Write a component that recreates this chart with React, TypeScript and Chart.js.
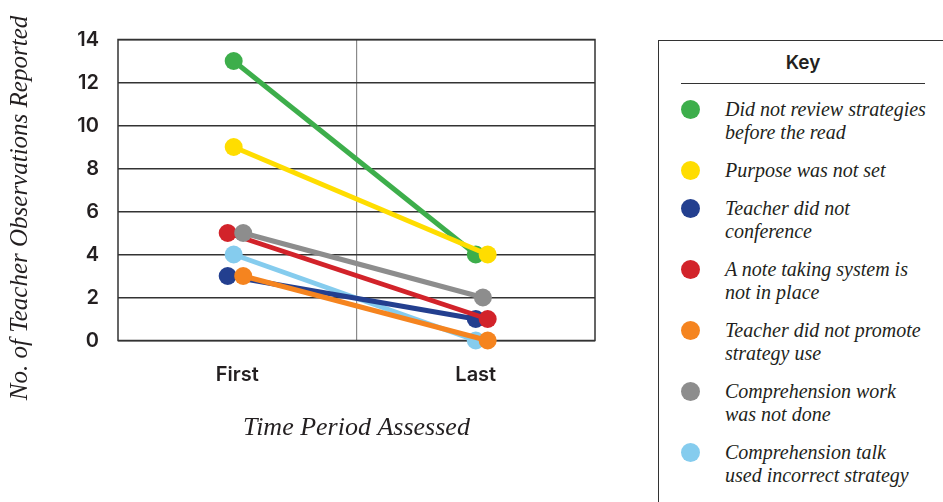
import React, { useEffect, useRef } from "react";
import { Chart, registerables } from "chart.js";

Chart.register(...registerables);

// ---- data ----
const periodLabels = ["First", "Last"];
const periodPositions = [1, 3];
const seriesNames: string[][] = [
  ["Did not review strategies", "before the read"],
  ["Purpose was not set"],
  ["Teacher did not", "conference"],
  ["A note taking system is", "not in place"],
  ["Teacher did not promote", "strategy use"],
  ["Comprehension work", "was not done"],
  ["Comprehension talk", "used incorrect strategy"],
];
const firstValues = [13, 9, 3, 5, 3, 5, 4];
const lastValues = [4, 4, 1, 1, 0, 2, 0];
// small horizontal dodge of each series' markers (as in the original)
const firstDodge = [-0.03, -0.03, -0.08, -0.08, 0.05, 0.05, -0.03];
const lastDodge = [0, 0.1, 0, 0.1, 0.1, 0.06, 0];
const seriesColors = ["#3DAE4B", "#FFDD00", "#233F8F", "#D2232A", "#F5841F", "#8D8D8D", "#85CCEE"];
const layerOrder = [7, 6, 4, 3, 2, 1, 5];
const yMin = 0;
const yMax = 14;
const yStep = 2;

const TEXT = "#231f20";
const SANS = "Inter, 'Open Sans', sans-serif";
const SERIF = "'Liberation Serif', 'DejaVu Serif', serif";

const framePlugin = {
  id: "frame",
  beforeDatasetsDraw(chart: any) {
    const { ctx, chartArea } = chart;
    ctx.save();
    ctx.strokeStyle = "#333333";
    ctx.lineWidth = 1.5;
    ctx.strokeRect(chartArea.left, chartArea.top, chartArea.right - chartArea.left, chartArea.bottom - chartArea.top);
    ctx.restore();
  },
};

function SlopeChart() {
  const ref = useRef<HTMLCanvasElement | null>(null);
  useEffect(() => {
    if (!ref.current) return;
    const datasets = seriesNames.map((name, i) => ({
      label: name.join(" "),
      data: [
        { x: periodPositions[0] + firstDodge[i], y: firstValues[i] },
        { x: periodPositions[1] + lastDodge[i], y: lastValues[i] },
      ],
      borderColor: seriesColors[i],
      backgroundColor: seriesColors[i],
      pointBackgroundColor: seriesColors[i],
      pointBorderWidth: 0,
      pointRadius: 9,
      pointHoverRadius: 9,
      borderWidth: 5,
      showLine: true,
      fill: false,
      clip: false as any,
      order: layerOrder[i],
    }));
    const chart = new Chart(ref.current, {
      type: "line",
      data: { datasets },
      plugins: [framePlugin],
      options: {
        animation: false,
        responsive: false,
        layout: { padding: { left: 0, top: 39.5, right: 45, bottom: 0 } },
        plugins: { legend: { display: false }, tooltip: { enabled: false } },
        scales: {
          x: {
            type: "linear",
            min: 0,
            max: 4,
            afterFit: (s: any) => {
              s.height = 161.5;
            },
            afterBuildTicks: (s: any) => {
              s.ticks = [0, 1, 2, 3, 4].map((v) => ({ value: v }));
            },
            ticks: {
              stepSize: 1,
              padding: 22,
              color: TEXT,
              font: { family: SANS, size: 20, weight: 600 as any },
              callback: (v: any) => {
                const k = periodPositions.indexOf(Number(v));
                return k >= 0 ? periodLabels[k] : "";
              },
            },
            grid: {
              drawTicks: false,
              color: (c: any) => (c.tick && c.tick.value === 2 ? "#8a8a8a" : "rgba(0,0,0,0)"),
              lineWidth: 1.2,
            },
            border: { display: false },
            title: {
              display: true,
              text: "Time Period Assessed",
              color: TEXT,
              font: { family: SERIF, size: 26, style: "italic" as any, weight: "normal" as any },
              padding: { top: 0, bottom: 58 },
            },
          },
          y: {
            type: "linear",
            min: yMin,
            max: yMax,
            afterFit: (s: any) => {
              s.width = 118;
            },
            ticks: {
              stepSize: yStep,
              padding: 19,
              color: TEXT,
              font: { family: SANS, size: 20, weight: 600 as any },
            },
            grid: { drawTicks: false, color: "#333333", lineWidth: 1.5 },
            border: { display: false },
          },
        },
      },
    });
    return () => chart.destroy();
  }, []);
  return <canvas ref={ref} width={640} height={502} style={{ position: "absolute", left: 0, top: 0, width: 640, height: 502 }} />;
}

export default function App() {
  return (
    <div style={{ position: "absolute", left: 0, top: 0, width: 943, height: 502, overflow: "hidden", background: "#fff" }}>
      <SlopeChart />
      <div
        style={{
          position: "absolute",
          left: 19 - 220,
          top: 208 - 15,
          width: 440,
          height: 30,
          lineHeight: "30px",
          textAlign: "center",
          transform: "rotate(-90deg)",
          transformOrigin: "50% 50%",
          fontFamily: SERIF,
          fontStyle: "italic",
          fontSize: 25,
          color: TEXT,
          whiteSpace: "nowrap",
        }}
      >
        No. of Teacher Observations Reported
      </div>
      <div
        style={{
          position: "absolute",
          left: 658,
          top: 40,
          width: 285,
          height: 462,
          borderTop: "1.5px solid #333",
          borderLeft: "1.5px solid #333",
          boxSizing: "border-box",
        }}
      />
      <div
        style={{
          position: "absolute",
          left: 681,
          top: 51,
          width: 244,
          textAlign: "center",
          fontFamily: SANS,
          fontWeight: 600,
          fontSize: 19,
          lineHeight: "24px",
          color: TEXT,
        }}
      >
        Key
      </div>
      <div style={{ position: "absolute", left: 681, top: 82.5, width: 244, height: 1.5, background: "#333" }} />
      <div style={{ position: "absolute", left: 681, top: 98 }}>
        {seriesNames.map((lines, i) => (
          <div key={i} style={{ display: "flex", alignItems: "flex-start", marginBottom: 15 }}>
            <div
              style={{
                width: 19,
                height: 19,
                borderRadius: "50%",
                background: seriesColors[i],
                marginTop: 2,
                flex: "0 0 19px",
              }}
            />
            <div
              style={{
                marginLeft: 25,
                fontFamily: SERIF,
                fontStyle: "italic",
                fontSize: 20,
                lineHeight: "23px",
                color: TEXT,
                whiteSpace: "nowrap",
              }}
            >
              {lines.map((l, j) => (
                <div key={j}>{l}</div>
              ))}
            </div>
          </div>
        ))}
      </div>
    </div>
  );
}
